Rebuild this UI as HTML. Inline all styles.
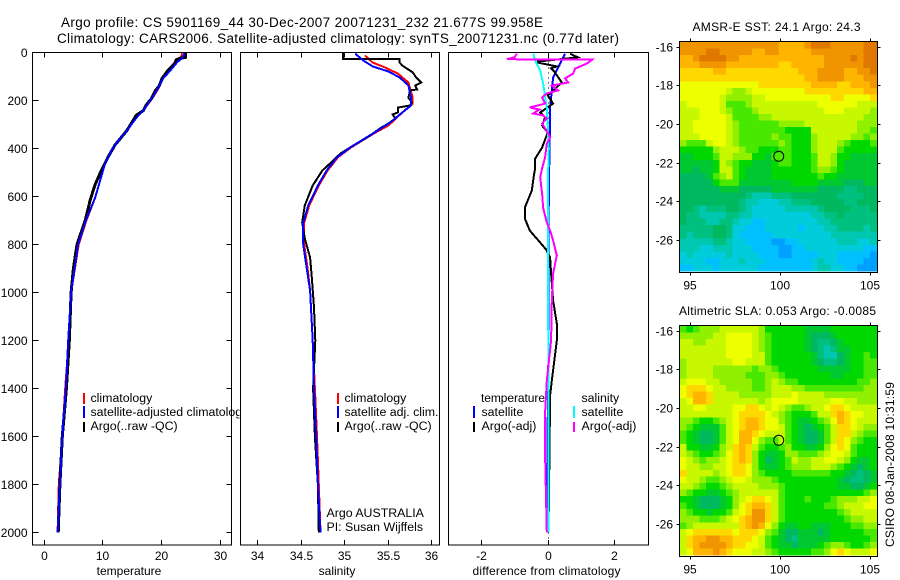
<!DOCTYPE html>
<html>
<head>
<meta charset="utf-8">
<title>Argo profile</title>
<style>
html,body{margin:0;padding:0;background:#fff;}
svg{display:block;}
text{font-family:"Liberation Sans",sans-serif;font-size:12px;fill:#000;}
.lg{font-size:12.35px;}
</style>
</head>
<body>
<svg id="chart" xmlns="http://www.w3.org/2000/svg" width="900" height="580" viewBox="0 0 900 580">
  <rect x="0" y="0" width="900" height="580" fill="#fff"/>
  <text x="61" y="27" style="font-size:13.5px" textLength="482">Argo profile: CS 5901169_44 30-Dec-2007 20071231_232 21.677S 99.958E</text>
  <text x="57" y="43" style="font-size:13.5px" textLength="562">Climatology: CARS2006. Satellite-adjusted climatology: synTS_20071231.nc (0.77d later)</text>

  <g id="p1">
    <rect x="32.5" y="52.5" width="199" height="492.5" fill="#fff" stroke="none"/>
    <g id="p1-lines"></g>
    <g>
      <rect x="83" y="393" width="2" height="11" fill="#f00"/>
      <rect x="83" y="406" width="2" height="12" fill="#00f"/>
      <rect x="83" y="422" width="2" height="10" fill="#000"/>
      <text class="lg" x="90.5" y="402">climatology</text>
      <text class="lg" x="90.5" y="416">satellite-adjusted climatology</text>
      <text class="lg" x="90.5" y="430">Argo(..raw -QC)</text>
    </g>
    <g id="p1-ticks"></g>
    <text x="129" y="575" text-anchor="middle">temperature</text>
  </g>

  <g id="p2">
    <rect x="239.5" y="45" width="200" height="500" fill="#fff" stroke="none"/>
    <g id="p2-lines"></g>
    <g>
      <rect x="337" y="393" width="2" height="11" fill="#f00"/>
      <rect x="337" y="406" width="2" height="12" fill="#00f"/>
      <rect x="337" y="422" width="2" height="10" fill="#000"/>
      <text class="lg" x="344.5" y="402">climatology</text>
      <text class="lg" x="344.5" y="416">satellite adj. clim.</text>
      <text class="lg" x="344.5" y="430">Argo(..raw -QC)</text>
      <text class="lg" x="326.5" y="517">Argo AUSTRALIA</text>
      <text class="lg" x="326.5" y="531">PI: Susan Wijffels</text>
    </g>
    <g id="p2-ticks"></g>
    <text x="337" y="575" text-anchor="middle">salinity</text>
  </g>

  <g id="p3">
    <g id="p3-lines"></g>
    <g>
      <text x="481" y="402" textLength="64">temperature</text>
      <rect x="473" y="406" width="2" height="12" fill="#00f"/>
      <rect x="473" y="422" width="2" height="10" fill="#000"/>
      <text class="lg" x="481.5" y="416">satellite</text>
      <text class="lg" x="481.5" y="430">Argo(-adj)</text>
      <text class="lg" x="581.5" y="402">salinity</text>
      <rect x="573" y="406" width="2" height="12" fill="#0ff"/>
      <rect x="573" y="422" width="2" height="10" fill="#f0f"/>
      <text class="lg" x="581.5" y="416">satellite</text>
      <text class="lg" x="581.5" y="430">Argo(-adj)</text>
    </g>
    <g id="p3-ticks"></g>
    <text x="546.5" y="575" text-anchor="middle" textLength="148">difference from climatology</text>
  </g>

  <g id="m1">
    <text x="692.5" y="31" textLength="168">AMSR-E SST: 24.1 Argo: 24.3</text>
    <g id="m1-cells" shape-rendering="crispEdges"></g>
    <g id="m1-axes"></g>
  </g>
  <g id="m2">
    <text x="679" y="315" textLength="197">Altimetric SLA: 0.053 Argo: -0.0085</text>
    <g id="m2-cells" shape-rendering="crispEdges"></g>
    <g id="m2-axes"></g>
  </g>
  <text transform="translate(894,547) rotate(-90)" textLength="165">CSIRO 08-Jan-2008 10:31:59</text>
</svg>

<script>
var depthTicks = [0,200,400,600,800,1000,1200,1400,1600,1800,2000];
var tempTicks = [0,10,20,30];
var salTicks = [34,34.5,35,35.5,36];
var diffTicks = [-2,0,2];
var lonTicks = [95,100,105];
var latTicks = [-16,-18,-20,-22,-24,-26];
var argoLon = 99.958;
var argoLat = -21.677;

var tempClimDepth = [3,15,30,50,75,108,158,192,242,270,325,375,408,462,521,604,700,800,1000,1200,1400,1600,1800,2000];
var tempClimValue = [23.6,23.5,23.0,22.0,21.5,20.4,19.4,18.5,17.0,15.9,14.2,12.5,11.6,10.5,9.8,8.8,7.3,6.0,4.7,4.3,3.7,3.2,2.6,2.4];
var tempArgoDepth = [3,20,25,30,50,60,75,108,140,158,192,215,242,262,325,385,435,505,550,610,700,800,900,1000,1200,1400,1600,1800,2000];
var tempArgoValue = [24.2,24.2,23.2,22.6,22.3,21.8,21.2,20.2,19.7,19.1,18.4,17.6,17.0,15.8,14.2,12.2,11.0,9.6,8.8,8.0,7.1,5.7,5.1,4.7,4.4,3.9,3.2,2.8,2.5];
var tempSatDepth = [3,20,40,75,108,158,192,242,270,325,375,408,462,521,604,700,800,1000,1200,1400,1600,1800,2000];
var tempSatValue = [24.0,23.8,22.8,21.6,20.4,19.3,18.4,17.0,15.9,14.2,12.5,11.6,10.5,9.8,8.8,7.2,5.9,4.7,4.2,3.8,3.2,2.8,2.4];

var salClimDepth = [12,42,62,88,125,187,213,250,304,338,396,437,492,554,637,712,796,896,992,1200,1400,1600,1800,2000];
var salClimValue = [35.24,35.33,35.47,35.62,35.74,35.79,35.79,35.67,35.51,35.34,35.08,34.93,34.81,34.71,34.60,34.54,34.54,34.58,34.61,34.64,34.665,34.69,34.71,34.73];
var salArgoDepth = [3,28,28,42,54,83,104,125,138,154,158,188,208,221,229,250,258,275,296,317,346,396,421,462,492,554,637,708,775,854,937,1062,1200,1400,1600,1800,2000];
var salArgoValue = [34.99,34.99,35.64,35.64,35.67,35.79,35.83,35.89,35.82,35.84,35.76,35.74,35.78,35.76,35.62,35.62,35.56,35.59,35.51,35.41,35.30,35.07,34.96,34.84,34.75,34.64,34.55,34.52,34.55,34.61,34.63,34.655,34.67,34.645,34.665,34.70,34.71];
var salSatDepth = [5,33,58,79,104,137,187,221,250,292,338,396,437,492,554,637,712,796,896,992,1200,1400,1600,1800,2000];
var salSatValue = [35.13,35.22,35.33,35.51,35.64,35.74,35.77,35.77,35.67,35.53,35.33,35.07,34.92,34.80,34.70,34.59,34.53,34.53,34.57,34.61,34.64,34.655,34.68,34.70,34.73];

var diffTempSatDepth = [5,46,104,158,229,300,400,600,900,1200,1500,1800,2000];
var diffTempSatValue = [0.52,0.37,0.16,0.12,0.07,0.07,0.05,0.03,0.02,0.02,0.0,-0.02,-0.03];
var diffSalSatDepth = [5,33,75,129,229,333,400,500,700,1000,1400,1800,2000];
var diffSalSatValue = [-0.44,-0.38,-0.23,-0.14,-0.03,0.01,0.03,0.01,0.01,0.01,0.02,0.02,0.02];
var diffTempArgoDepth = [5,20,38,42,58,66,80,125,179,213,250,270,304,333,396,442,483,504,575,646,692,742,792,821,854,921,1033,1129,1200,1367,1429,1658,2000];
var diffTempArgoValue = [0.67,0.9,-0.3,-0.3,0.27,0.1,0.2,0.42,0.0,0.16,-0.23,-0.08,-0.17,0.0,-0.17,-0.38,-0.38,-0.41,-0.48,-0.69,-0.69,-0.54,-0.23,-0.05,0.07,0.1,0.16,0.27,0.27,0.12,0.07,0.05,0.02];
var diffSalArgoDepth = [5,20,28,30,46,67,88,108,125,138,158,171,187,213,229,238,254,262,275,296,333,354,379,437,483,521,587,646,708,742,783,846,921,1033,1200,1367,1500,1680,2000];
var diffSalArgoValue = [-0.93,-1.0,-1.23,1.33,1.18,0.82,0.76,0.52,0.61,0.12,0.31,-0.03,-0.17,-0.08,-0.54,-0.25,-0.44,-0.14,-0.03,-0.17,0.0,0.07,-0.03,-0.08,-0.17,-0.23,-0.17,-0.14,-0.03,0.07,0.16,0.27,0.16,0.12,0.1,-0.03,-0.08,-0.08,-0.03];

var paletteColors = ['#00a0ff','#00c0ff','#00ccdc','#00c8b0','#00c080','#00b860','#00c830','#00d800','#48e800','#90f000','#c8f800','#eeff00','#ffd800','#ffb400','#f09400','#e07800'];

var sstGrid = [
[14,14,14,14,14,14,14,14,14,14,14,14,14,14,14,13,13,13,13,14,15,15,15,14,14,14,14,14,15,15],
[14,14,14,14,15,15,14,14,14,14,14,13,13,14,14,13,13,13,13,13,14,14,14,14,14,14,14,14,15,15],
[13,13,14,15,15,15,15,14,14,13,13,13,13,13,13,13,13,13,13,13,13,13,14,14,14,14,15,14,15,15],
[13,13,13,14,14,14,14,13,13,13,13,13,13,13,13,12,12,13,13,13,13,13,14,14,14,14,14,14,15,15],
[12,12,12,12,12,13,13,12,12,12,12,12,12,12,12,12,12,12,13,13,13,14,14,14,14,13,13,14,14,15],
[12,12,12,12,12,12,12,12,12,12,12,12,12,12,12,12,12,12,12,13,13,14,14,14,14,13,13,13,14,14],
[11,11,11,11,11,11,11,11,11,11,11,11,12,12,12,12,12,12,12,12,13,13,13,13,12,12,13,13,13,14],
[11,11,11,11,11,11,11,10,9,9,10,11,11,11,11,11,11,11,11,12,12,12,12,12,12,12,12,12,13,13],
[11,11,11,11,11,11,10,9,9,9,9,10,10,11,11,11,11,11,11,11,11,11,11,12,12,11,11,11,11,12],
[10,11,11,11,11,11,10,8,8,8,9,10,10,10,10,10,10,10,10,10,10,11,11,11,11,11,11,10,10,10],
[10,10,10,11,11,11,10,9,8,8,8,9,10,10,10,10,10,10,10,10,10,10,11,11,11,10,10,10,10,9],
[10,10,10,11,11,11,11,10,8,8,8,8,9,9,10,10,10,10,10,10,10,10,10,10,10,10,10,10,9,9],
[10,10,11,11,11,11,11,10,9,8,8,8,8,8,8,9,9,9,9,10,10,10,10,10,10,10,10,9,9,9],
[10,10,11,11,11,11,11,10,9,8,8,8,8,8,8,8,7,7,7,7,10,10,10,10,10,10,10,9,9,8],
[10,10,10,11,11,11,11,10,9,8,8,8,8,8,9,8,8,7,7,7,9,10,10,10,10,10,9,9,8,9],
[9,8,8,8,10,11,11,10,9,8,8,8,8,8,8,9,8,7,7,7,9,10,10,10,9,8,7,7,7,8],
[7,7,7,7,7,9,10,10,10,9,8,8,7,7,7,8,8,7,7,7,9,10,10,10,8,7,7,7,7,7],
[6,6,7,7,7,8,10,10,9,9,9,7,7,6,8,8,8,7,7,7,8,10,10,9,7,7,6,6,6,6],
[6,6,6,6,6,7,10,9,8,7,7,6,6,6,7,8,8,7,7,7,8,10,10,9,7,6,6,6,6,6],
[6,6,5,6,6,7,10,10,8,7,6,6,6,6,7,7,7,7,7,7,8,9,9,8,7,6,6,6,6,6],
[5,5,5,5,6,8,9,10,8,7,6,6,6,6,7,7,7,7,7,7,7,8,7,7,6,6,6,6,6,6],
[5,5,5,5,5,7,8,8,8,6,6,6,6,6,6,6,6,7,7,7,7,6,6,6,6,5,5,5,6,6],
[5,5,5,5,5,5,6,6,6,5,5,5,5,5,6,6,6,6,6,6,6,5,5,5,5,4,4,5,5,5],
[5,5,5,5,5,5,5,5,5,5,4,3,3,3,4,4,4,5,5,5,5,5,5,5,4,4,4,4,5,5],
[5,5,5,5,5,5,5,5,5,4,3,3,2,2,2,3,3,4,4,4,5,5,5,5,5,4,4,5,5,5],
[5,5,4,3,4,4,4,5,5,4,3,2,2,2,2,2,3,3,3,3,3,4,5,5,5,5,4,4,4,5],
[5,4,4,3,3,3,3,4,4,3,3,2,2,2,2,2,2,2,2,2,3,3,4,4,5,4,4,4,4,4],
[5,4,4,4,3,3,4,4,3,2,2,1,1,2,2,2,2,2,2,2,2,3,3,4,4,4,4,4,4,4],
[4,4,4,4,4,5,5,4,2,2,1,1,1,2,2,2,2,2,1,2,2,2,3,3,4,4,4,4,3,4],
[4,3,4,4,4,5,5,4,2,1,1,1,1,1,2,2,2,2,2,2,2,2,2,3,3,3,3,3,3,3],
[3,3,3,3,3,4,4,3,2,2,1,1,1,1,0,0,1,1,2,2,2,2,2,2,3,3,3,2,2,3],
[3,3,3,2,2,3,3,3,2,2,2,1,1,1,1,0,0,1,1,2,2,2,2,2,2,2,2,2,1,1],
[2,3,2,2,2,2,2,3,2,2,2,2,1,1,1,0,0,1,1,1,1,2,2,2,1,1,1,1,1,0],
[2,2,2,2,1,1,2,2,2,3,2,2,2,1,1,1,1,1,1,1,2,3,2,2,1,1,1,1,0,0],
[1,1,2,2,2,1,2,2,2,2,2,2,1,1,1,1,1,1,1,1,2,3,3,2,2,1,1,0,0,0]
];

var slaGrid = [
[8,7,8,9,9,9,10,10,10,10,10,10,9,7,7,7,7,7,7,6,6,6,6,7,7,7,7,7,7,7],
[9,9,9,9,9,10,10,11,11,11,11,10,9,8,7,7,7,7,7,6,5,5,5,6,7,7,7,7,7,7],
[10,10,9,9,10,10,10,11,11,11,11,10,9,8,7,7,7,7,7,6,5,4,4,5,6,7,7,7,7,7],
[10,10,10,10,10,10,10,11,11,11,11,10,9,8,7,7,7,7,7,6,5,4,3,4,6,6,7,7,7,7],
[10,10,10,10,10,10,10,11,11,11,11,10,10,8,7,7,7,7,7,7,6,4,3,3,5,6,7,7,8,7],
[9,10,10,10,10,10,10,10,11,11,10,10,10,8,7,7,7,7,7,7,6,5,4,4,5,6,7,7,8,8],
[9,10,10,10,10,9,9,9,9,9,9,8,9,9,8,7,7,7,7,7,7,6,6,6,6,6,7,7,8,8],
[9,10,10,10,10,9,9,9,9,9,8,8,8,9,9,8,7,7,7,7,7,7,7,6,6,7,7,7,8,8],
[10,11,11,11,10,10,9,9,9,9,9,8,8,9,10,9,8,8,7,7,7,7,7,7,7,7,7,8,8,9],
[11,12,12,12,11,10,10,9,9,9,9,8,8,9,10,10,10,9,9,8,8,8,8,8,8,8,8,8,9,9],
[11,12,13,13,12,10,10,10,10,9,9,9,9,9,10,10,10,11,10,10,10,10,9,9,9,9,9,9,9,9],
[10,11,13,13,12,10,10,10,10,10,10,10,9,10,11,11,11,11,10,10,10,10,10,11,11,10,10,9,9,9],
[10,10,11,11,10,10,10,10,11,11,12,12,11,10,11,10,9,8,8,9,10,10,11,12,12,11,10,10,10,10],
[10,10,10,10,10,10,10,10,11,12,12,12,12,11,10,9,8,7,7,7,8,10,10,12,13,12,11,11,10,10],
[9,9,8,7,7,8,9,10,11,12,13,13,12,11,11,9,8,7,6,6,7,8,9,11,13,12,11,10,10,10],
[9,8,7,6,6,6,8,10,11,12,13,13,12,11,11,10,8,7,6,5,6,7,8,10,12,12,11,10,9,9],
[8,7,6,5,5,6,8,10,11,13,13,12,11,10,10,10,8,7,6,5,5,6,8,10,12,12,10,9,8,8],
[8,7,6,5,5,6,8,10,11,13,13,11,9,8,8,10,8,7,6,5,5,6,8,10,12,11,9,8,7,7],
[10,7,7,6,6,7,9,10,12,13,12,10,8,7,7,8,9,7,7,6,6,7,9,11,12,11,8,7,7,7],
[10,9,8,7,7,8,9,11,12,13,12,9,7,6,6,7,9,9,8,8,8,9,10,11,11,10,8,7,7,7],
[11,10,9,8,9,9,10,11,12,13,12,9,7,5,6,7,8,10,9,9,10,10,11,11,10,9,7,6,6,7],
[11,10,10,9,9,10,10,11,12,12,11,9,7,6,6,7,8,9,9,9,10,10,10,9,8,7,6,5,6,7],
[12,10,10,10,10,9,10,11,12,12,11,9,8,7,7,7,7,8,8,8,8,8,8,7,7,6,5,4,5,6],
[11,10,10,9,8,8,9,10,11,11,10,9,9,9,8,7,7,7,7,7,7,7,7,7,6,5,4,4,5,6],
[10,10,9,8,7,7,8,9,10,10,10,10,9,9,9,8,7,7,7,7,7,7,7,7,6,6,5,5,6,7],
[9,8,7,7,6,6,7,8,9,10,10,10,10,10,10,8,7,7,7,7,7,7,7,7,7,7,7,7,8,9],
[7,7,6,5,5,5,6,7,9,10,11,12,12,11,10,8,7,7,7,8,7,7,7,8,9,9,9,10,10,11],
[8,7,6,5,5,5,6,7,9,11,12,13,13,12,10,8,7,7,7,7,7,7,8,8,9,10,10,10,11,11],
[9,8,7,7,6,7,7,8,10,11,12,14,14,12,10,8,7,7,7,7,7,7,7,7,8,9,10,10,10,10],
[9,9,9,8,8,8,9,10,11,12,13,14,14,12,10,8,7,7,7,7,7,7,7,7,7,8,9,9,10,10],
[8,9,10,10,10,10,10,10,10,12,13,14,13,11,9,7,6,6,7,7,6,6,6,7,7,7,8,8,9,9],
[10,11,12,12,12,12,12,12,11,12,12,12,11,9,8,6,5,5,6,6,6,5,6,7,7,7,7,7,8,8],
[10,12,13,13,14,14,13,13,12,12,12,11,10,8,7,6,5,4,6,6,6,6,6,7,7,7,7,7,7,8],
[10,12,13,14,14,14,14,13,12,12,11,11,10,8,7,6,6,5,6,6,6,7,8,9,9,8,7,7,8,9],
[10,11,13,13,13,14,13,12,11,11,11,10,10,9,8,7,7,7,7,7,8,8,9,11,12,11,10,10,10,11]
];

var NS = 'http://www.w3.org/2000/svg';
function make(parent, tag) {
  var el = document.createElementNS(NS, tag);
  parent.appendChild(el);
  return el;
}
function depthY(d) { return 52.5 + 0.24 * d; }
function tempX(v) { return 43.5 + 5.87 * v; }
function salX(v) { return 344 + 87 * (v - 35); }
function diffX(v) { return 547.8 + 33.25 * v; }

function drawLine(parentId, depths, values, xFn, color, name, width) {
  var parent = document.getElementById(parentId);
  var pts = [];
  for (var i = 0; i < depths.length; i++) {
    pts.push(xFn(values[i]).toFixed(1) + ',' + depthY(depths[i]).toFixed(1));
  }
  var el = make(parent, 'polyline');
  
  
  el.setAttribute('points', pts.join(' '));
  el.setAttribute('fill', 'none');
  el.setAttribute('stroke', color);
  el.setAttribute('stroke-width', width || 2);
  el.setAttribute('shape-rendering', 'crispEdges');
}

function tick(parent, x1, y1, x2, y2) {
  var el = make(parent, 'line');
  
  
  el.setAttribute('x1', x1);
  el.setAttribute('y1', y1);
  el.setAttribute('x2', x2);
  el.setAttribute('y2', y2);
  el.setAttribute('stroke', '#000');
  el.setAttribute('shape-rendering', 'crispEdges');
}
function label(parent, x, y, anchor, s) {
  var el = make(parent, 'text');
  
  
  el.setAttribute('x', x);
  el.setAttribute('y', y);
  el.setAttribute('text-anchor', anchor);
  el.textContent = s;
}
function frame(parent, x0, y0, x1, y1) {
  var el = make(parent, 'rect');
  
  
  el.setAttribute('x', x0);
  el.setAttribute('y', y0);
  el.setAttribute('width', x1 - x0);
  el.setAttribute('height', y1 - y0);
  el.setAttribute('fill', 'none');
  el.setAttribute('stroke', '#000');
  el.setAttribute('shape-rendering', 'crispEdges');
}

function profileAxes(id, x0, x1, ticks, xFn, withDepth) {
  var g = document.getElementById(id);
  var top = 52.5, bot = 545;
  frame(g, x0, top, x1, bot);
  ticks.forEach(function (t) {
    var x = Math.round(xFn(t)) + 0.5;
    tick(g, x, top, x, top + 5);
    tick(g, x, bot, x, bot - 5);
    label(g, x, 560, 'middle', String(t));
  });
  if (withDepth) {
    depthTicks.forEach(function (d) {
      var y = depthY(d);
      tick(g, x0, y, x0 + 6, y);
      tick(g, x1, y, x1 - 5, y);
      label(g, 27.5, y + 4.5, 'end', String(d));
    });
  }
}

function drawHeatmap(id, grid, x0, y0, w, h) {
  var g = document.getElementById(id);
  var rows = grid.length;
  var cols = grid[0].length;
  for (var r = 0; r < rows; r++) {
    for (var c = 0; c < cols; c++) {
      var cell = make(g, 'rect');
      
      
      cell.setAttribute('x', (x0 + c * w / cols).toFixed(2));
      cell.setAttribute('y', (y0 + r * h / rows).toFixed(2));
      cell.setAttribute('width', (w / cols + 0.5).toFixed(2));
      cell.setAttribute('height', (h / rows + 0.5).toFixed(2));
      cell.setAttribute('fill', paletteColors[grid[r][c]]);
    }
  }
}

function mapAxes(id, y0, y1, lat16) {
  var g = document.getElementById(id);
  var x0 = 679.5, x1 = 877.5;
  function lonX(v) { return 689.5 + 18 * (v - 95); }
  function latY(v) { return lat16 + 19.3 * (-16 - v); }
  frame(g, x0, y0, x1, y1);
  lonTicks.forEach(function (v) {
    var x = Math.round(lonX(v)) + 0.5;
    tick(g, x, y0, x, y0 - 3);
    tick(g, x, y1, x, y1 + 3);
    label(g, x - 0.5, y1 + 17, 'middle', String(v));
  });
  latTicks.forEach(function (v) {
    var y = Math.round(latY(v)) + 0.5;
    tick(g, x0, y, x0 - 3, y);
    tick(g, x1, y, x1 + 3, y);
    label(g, 673, y + 4, 'end', String(v));
  });
  var c = make(g, 'circle');
  
  
  c.setAttribute('cx', lonX(argoLon));
  c.setAttribute('cy', latY(argoLat));
  c.setAttribute('r', '5');
  c.setAttribute('fill', 'none');
  c.setAttribute('stroke', '#000');
}

drawLine('p1-lines', tempClimDepth, tempClimValue, tempX, '#f00', 'temperature-climatology-line', 2);
drawLine('p1-lines', tempArgoDepth, tempArgoValue, tempX, '#000', 'temperature-argo-line', 3);
drawLine('p1-lines', tempSatDepth, tempSatValue, tempX, '#00f', 'temperature-satellite-line', 2);
drawLine('p2-lines', salClimDepth, salClimValue, salX, '#f00', 'salinity-climatology-line', 2);
drawLine('p2-lines', salArgoDepth, salArgoValue, salX, '#000', 'salinity-argo-line', 2);
drawLine('p2-lines', salSatDepth, salSatValue, salX, '#00f', 'salinity-satellite-line', 2);

var zeroDots = make(document.getElementById('p3-lines'), 'line');


zeroDots.setAttribute('x1', Math.round(diffX(0)) + 0.5);
zeroDots.setAttribute('x2', Math.round(diffX(0)) + 0.5);
zeroDots.setAttribute('y1', 52.5);
zeroDots.setAttribute('y2', 545);
zeroDots.setAttribute('stroke', '#000');
zeroDots.setAttribute('stroke-dasharray', '1 4');
zeroDots.setAttribute('shape-rendering', 'crispEdges');

drawLine('p3-lines', diffTempSatDepth, diffTempSatValue, diffX, '#00f', 'diff-temp-satellite-line', 2);
drawLine('p3-lines', diffTempArgoDepth, diffTempArgoValue, diffX, '#000', 'diff-temp-argo-line', 2);
drawLine('p3-lines', diffSalSatDepth, diffSalSatValue, diffX, '#0ff', 'diff-sal-satellite-line', 2);
drawLine('p3-lines', diffSalArgoDepth, diffSalArgoValue, diffX, '#f0f', 'diff-sal-argo-line', 2);

profileAxes('p1-ticks', 32.5, 231.5, tempTicks, tempX, true);
profileAxes('p2-ticks', 240.5, 439.5, salTicks, salX, false);
profileAxes('p3-ticks', 448.5, 648.5, diffTicks, diffX, false);

drawHeatmap('m1-cells', sstGrid, 680, 42, 196.5, 229);
mapAxes('m1-axes', 41.5, 272.5, 46.7);
drawHeatmap('m2-cells', slaGrid, 680, 326, 196.5, 229);
mapAxes('m2-axes', 325.5, 556.5, 330.7);
</script>
</body>
</html>
